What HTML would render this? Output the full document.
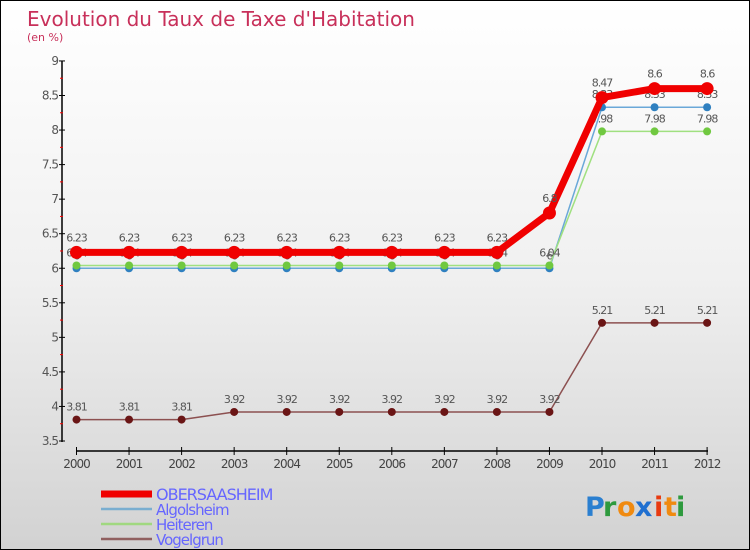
<!DOCTYPE html>
<html><head><meta charset="utf-8"><style>
body{margin:0}
#c{width:750px;height:550px;position:relative;overflow:hidden;box-sizing:border-box;border:1px solid #000;background:linear-gradient(#fff 0%,#f0f0f0 50%,#d2d2d2 100%);font-family:"DejaVu Sans","Liberation Sans",sans-serif}
svg text{font-family:"DejaVu Sans","Liberation Sans",sans-serif}
</style></head><body>
<div id="c">
<svg id="s" width="750" height="550" xmlns="http://www.w3.org/2000/svg">
<text x="26" y="25" font-size="20" fill="#c8305a">Evolution du Taux de Taxe d'Habitation</text>
<text x="26" y="40" font-size="11" fill="#c8305a">(en %)</text>
<g id="axes"></g><g id="series"></g><g id="legend"></g>
<g font-size="27" font-weight="bold">
<text x="584" y="515" fill="#2a7fd0">P</text><text x="602" y="515" fill="#2e9a3e">r</text><text x="616" y="515" fill="#f08a10">o</text><text x="634" y="515" fill="#1f6fd0">x</text><text x="653" y="515" fill="#e83a10">i</text><text x="663" y="515" fill="#f08a10">t</text><text x="675" y="515" fill="#2e9a3e">i</text>
</g>
</svg></div>
<script>
const years=[2000,2001,2002,2003,2004,2005,2006,2007,2008,2009,2010,2011,2012];
const obersaasheim=[6.23,6.23,6.23,6.23,6.23,6.23,6.23,6.23,6.23,6.8,8.47,8.6,8.6];
const algolsheim=[6.0,6.0,6.0,6.0,6.0,6.0,6.0,6.0,6.0,6.0,8.33,8.33,8.33];
const heiteren=[6.04,6.04,6.04,6.04,6.04,6.04,6.04,6.04,6.04,6.04,7.98,7.98,7.98];
const vogelgrun=[3.81,3.81,3.81,3.92,3.92,3.92,3.92,3.92,3.92,3.92,5.21,5.21,5.21];
const yTicks=[3.5,4,4.5,5,5.5,6,6.5,7,7.5,8,8.5,9];
const seriesNames=["OBERSAASHEIM","Algolsheim","Heiteren","Vogelgrun"];
const NS="http://www.w3.org/2000/svg";
const X=i=>75.5+i*52.55;
const Y=v=>440-(v-3.5)*69.1;
function mk(p,t,a){const e=document.createElementNS(NS,t);for(const k in a)e.setAttribute(k,a[k]);p.appendChild(e);return e;}
const ax=document.getElementById('axes');
let e=mk(ax,'line',{x1:61,y1:60,x2:61,y2:441,stroke:'#000','stroke-width':1.5});

e=mk(ax,'line',{x1:75,y1:450,x2:707,y2:450,stroke:'#000','stroke-width':1.5});

yTicks.forEach(v=>{
 mk(ax,'line',{x1:58,y1:Y(v),x2:64,y2:Y(v),stroke:'#000'});
 const t=mk(ax,'text',{x:57,y:Y(v)+4,'font-size':12,fill:'#555','text-anchor':'end','letter-spacing':'-1'});t.textContent=v;
 
 if(v<9)mk(ax,'line',{x1:59,y1:Y(v+0.25),x2:62,y2:Y(v+0.25),stroke:'#f00'});
});
years.forEach((yr,i)=>{
 mk(ax,'line',{x1:X(i),y1:446,x2:X(i),y2:454,stroke:'#000'});
 const t=mk(ax,'text',{x:X(i),y:467,'font-size':12,fill:'#444','text-anchor':'middle','letter-spacing':'-1'});t.textContent=yr;
 
});
const sg=document.getElementById('series');
function draw(vals,col,lw,r,dot,name,lblDy){
 const g=mk(sg,'g',{});
 
 mk(g,'polyline',{points:vals.map((v,i)=>X(i)+','+Y(v)).join(' '),fill:'none',stroke:col,'stroke-width':lw,'stroke-linejoin':'round'});
 vals.forEach((v,i)=>{
  const c=mk(g,'circle',{cx:X(i),cy:Y(v),r:r,fill:dot});
  
  const t=mk(g,'text',{x:X(i),y:Y(v)+lblDy,'font-size':11,fill:'#555','text-anchor':'middle','letter-spacing':'-1'});t.textContent=v;
  
 });
}
draw(vogelgrun,'#8c5050',1.5,4,'#6a1515','vogelgrun',-9);
draw(algolsheim,'#6aa8d8',1.5,4,'#2f80c0','algolsheim',-9);
draw(heiteren,'#a0e080',1.5,4,'#70c840','heiteren',-9);
draw(obersaasheim,'#f00000',7,6.5,'#f00000','obersaasheim',-11);
const lg=document.getElementById('legend');
const cols=['#f00000','#7aaed0','#a0d880','#906060'],ws=[7,2.5,2.5,2.5];
seriesNames.forEach((n,i)=>{
 const y=493+i*15;
 const g=mk(lg,'g',{});
 
 mk(g,'line',{x1:100,y1:y,x2:151,y2:y,stroke:cols[i],'stroke-width':ws[i]});
 const t=mk(g,'text',{x:155,y:y+6,'font-size':i==0?16:15,fill:'#6666ff','letter-spacing':'-1'});t.textContent=n;
});
</script>
</body></html>
